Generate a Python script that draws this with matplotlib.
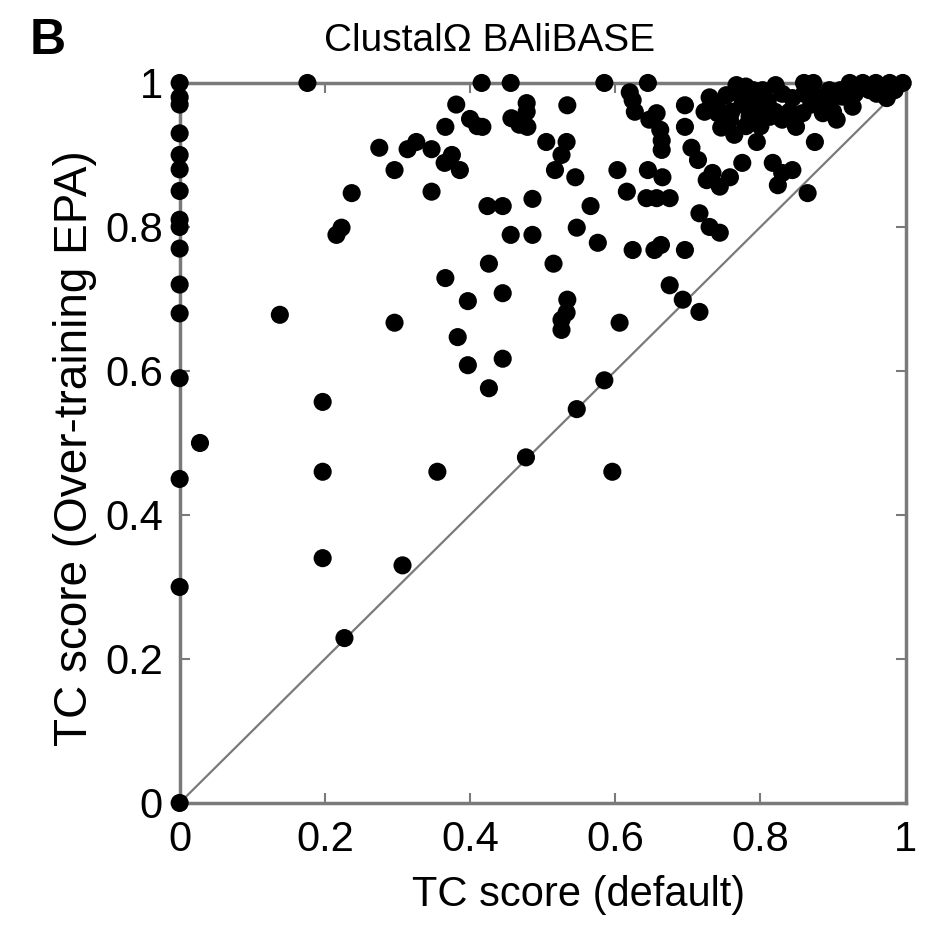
import matplotlib
matplotlib.use('Agg')
import matplotlib.pyplot as plt
from matplotlib import font_manager

# TC scores: x = default, y = over-training EPA
tc_default = [
    0, 0, 0, 0, 0, 0, 0, 0, 0, 0, 0, 0, 0, 0, 0, 0,
    0.028, 0.138, 0.176, 0.197, 0.197, 0.197, 0.216, 0.223, 0.227, 0.237,
    0.275, 0.296, 0.296, 0.307, 0.314, 0.326, 0.347, 0.347, 0.355, 0.366,
    0.365, 0.375, 0.386, 0.381, 0.366, 0.383, 0.397, 0.397, 0.40, 0.41,
    0.417, 0.416, 0.456, 0.424, 0.445, 0.426, 0.426, 0.445, 0.445, 0.456,
    0.486, 0.457, 0.468, 0.479, 0.478, 0.478, 0.477, 0.486, 0.505, 0.533,
    0.526, 0.517, 0.515, 0.534, 0.534, 0.533, 0.526, 0.526, 0.545, 0.547,
    0.547, 0.566, 0.576, 0.585, 0.585, 0.596, 0.603, 0.606, 0.616, 0.62,
    0.624, 0.627, 0.624, 0.654, 0.645, 0.645, 0.665, 0.643, 0.657, 0.675,
    0.647, 0.657, 0.662, 0.664, 0.664, 0.663, 0.696, 0.675, 0.693, 0.716,
    0.696, 0.696, 0.705, 0.714, 0.716, 0.73, 0.744, 0.726, 0.744, 0.758,
    0.775, 0.734, 0.795, 0.875, 0.817, 0.83, 0.844, 0.824, 0.865,
    0.73, 0.753, 0.767, 0.723, 0.741, 0.758, 0.746, 0.764, 0.785, 0.799,
    0.803, 0.821, 0.813, 0.83, 0.849, 0.858, 0.844, 0.86, 0.873, 0.886,
    0.895, 0.913, 0.905, 0.927, 0.941, 0.923, 0.959, 0.978, 0.996, 0.974,
    0.95, 0.895, 0.789, 0.775, 0.81, 0.78, 0.918,
    0.74, 0.76, 0.78, 0.80, 0.82, 0.84, 0.87, 0.88, 0.90, 0.77,
    0.79, 0.83, 0.86, 0.91, 0.93, 0.96, 0.985, 0.75, 0.80,
]
tc_epa = [
    1.0, 0.98, 0.97, 0.93, 0.90, 0.88, 0.85, 0.81, 0.80, 0.77, 0.72, 0.68, 0.59, 0.45, 0.30, 0.0,
    0.50, 0.678, 1.0, 0.557, 0.46, 0.34, 0.789, 0.799, 0.229, 0.847,
    0.91, 0.879, 0.667, 0.33, 0.908, 0.918, 0.908, 0.849, 0.46, 0.939,
    0.889, 0.90, 0.879, 0.97, 0.729, 0.647, 0.697, 0.608, 0.95, 0.94,
    0.939, 1.0, 1.0, 0.829, 0.829, 0.749, 0.576, 0.708, 0.617, 0.789,
    0.789, 0.951, 0.942, 0.939, 0.972, 0.96, 0.48, 0.839, 0.918, 0.918,
    0.90, 0.879, 0.749, 0.969, 0.699, 0.681, 0.671, 0.657, 0.869, 0.799,
    0.547, 0.829, 0.778, 1.0, 0.587, 0.46, 0.879, 0.667, 0.849, 0.987,
    0.976, 0.96, 0.768, 0.768, 1.0, 0.879, 0.869, 0.84, 0.84, 0.84,
    0.949, 0.958, 0.935, 0.92, 0.907, 0.775, 0.768, 0.719, 0.699, 0.682,
    0.969, 0.939, 0.91, 0.893, 0.819, 0.80, 0.792, 0.865, 0.856, 0.869,
    0.889, 0.875, 0.918, 0.918, 0.889, 0.875, 0.879, 0.858, 0.847,
    0.98, 0.983, 0.997, 0.96, 0.958, 0.949, 0.938, 0.928, 0.953, 0.962,
    0.99, 0.997, 0.953, 0.949, 0.939, 0.958, 0.979, 1.0, 1.0, 0.958,
    0.972, 0.981, 0.949, 0.967, 1.0, 1.0, 1.0, 1.0, 1.0, 0.979,
    0.99, 0.99, 0.976, 0.97, 0.975, 0.995, 0.983,
    0.97, 0.96, 0.94, 0.94, 0.96, 0.96, 0.97, 0.98, 0.96, 0.985,
    0.99, 0.985, 0.985, 0.99, 0.985, 0.985, 0.99, 0.95, 0.95,
]
ticks = [0, 0.2, 0.4, 0.6, 0.8, 1]
tick_labels = ['0', '0.2', '0.4', '0.6', '0.8', '1']

# narrow helvetica-like face if we have it
names = {f.name for f in font_manager.fontManager.ttflist}
face = 'Liberation Sans Narrow' if 'Liberation Sans Narrow' in names else 'Liberation Sans'
plt.rcParams['font.family'] = [face, 'DejaVu Sans']

grey = '#7a7a7a'
fig = plt.figure(figsize=(9.26, 9.30), dpi=100)
ax = fig.add_axes([0.194, 0.1366, 0.784, 0.7742])

ax.plot([0, 1], [0, 1], color=grey, lw=1.6, zorder=1)
ax.scatter(tc_default, tc_epa, s=170, color='black', edgecolors='none',
           zorder=3, clip_on=False)

ax.set_xlim(0, 1)
ax.set_ylim(0, 1)
ax.set_xticks(ticks)
ax.set_xticklabels(tick_labels)
ax.set_yticks(ticks)
ax.set_yticklabels(tick_labels)
for sp in ax.spines.values():
    sp.set_color(grey)
    sp.set_linewidth(2.5)
ax.tick_params(direction='in', length=7, width=1.5, color=grey,
               top=True, right=True, labelsize=30, pad=12)

# labels sit off-centre in the original, so place them by hand
fig.text(0.625, 0.038, 'TC score (default)', fontsize=30, ha='center', va='center')
fig.text(0.081, 0.518, 'TC score (Over-training EPA)', fontsize=33,
         rotation=90, ha='center', va='center')
fig.text(0.529, 0.956, 'ClustalΩ BAliBASE', fontsize=28, ha='center', va='center')
fig.text(0.032, 0.942, 'B', fontsize=36, fontweight='bold',
         family=['Liberation Sans', 'DejaVu Sans'])

fig.savefig('out.png', dpi=100)
